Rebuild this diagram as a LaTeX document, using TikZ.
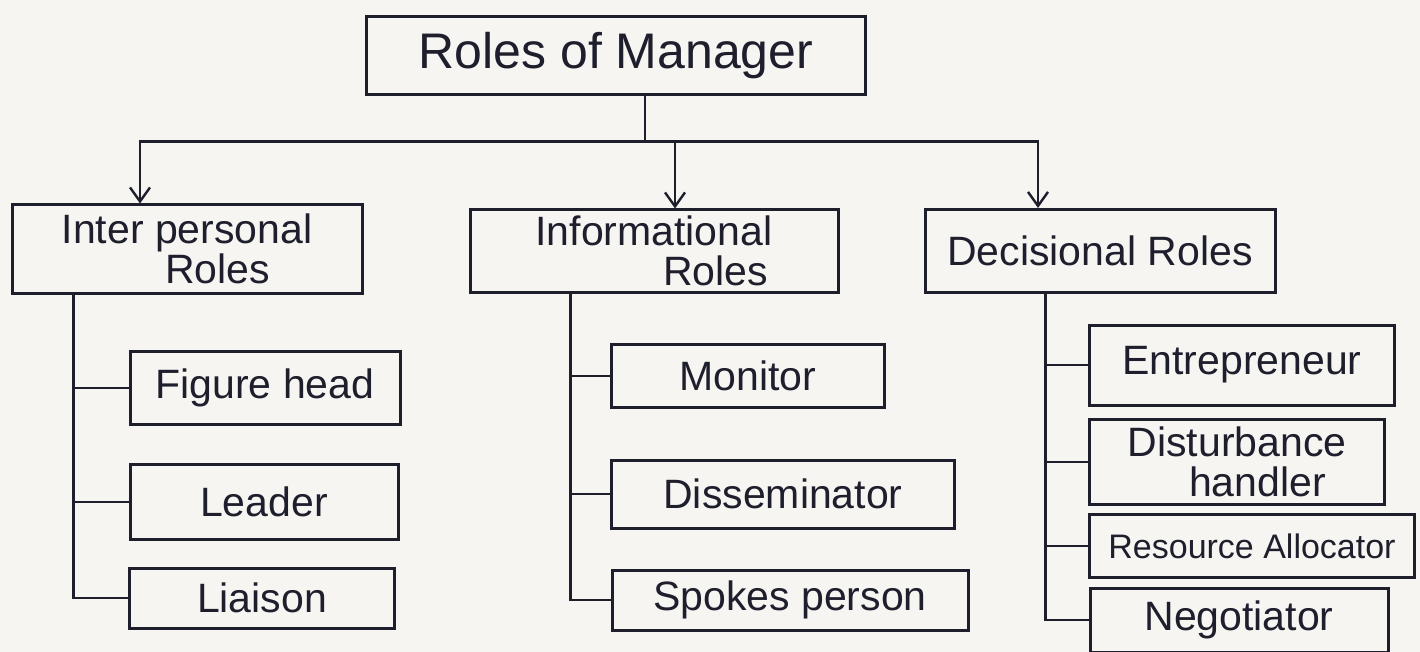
\documentclass[tikz,border=0pt]{standalone}
\usepackage{fontspec}
\setmainfont{Liberation Sans}
\usetikzlibrary{arrows.meta}
\definecolor{paper}{HTML}{F7F5F2}
\definecolor{ink}{HTML}{1E1E2C}
\tikzset{
  box/.style={draw=ink, line width=3pt, text=ink, inner sep=4pt, align=center,
    font=\fontsize{41}{40}\selectfont},
  link/.style={draw=ink, line width=2.6pt},
  down/.style={link, -{Straight Barb[length=14pt,width=20pt,line width=2.4pt]}}
}
\begin{document}
\begin{tikzpicture}[x=1pt,y=-1pt]
  \fill[paper] (0,0) rectangle (1420,652);
  \useasboundingbox (0,0) rectangle (1420,652);

  % top
  \node[box, minimum width=499pt, minimum height=78pt, font=\fontsize{50}{50}\selectfont] (rm) at (616,56) {Roles of Manager};

  % the three role groups
  \node[box, minimum width=350pt, minimum height=88pt] (ip) at (187,249) {Inter personal\\\hspace*{1.5em}Roles};
  \node[box, minimum width=368pt, minimum height=82pt] (if) at (654,251) {Informational\\\hspace*{3em}Roles};
  \node[box, minimum width=350pt, minimum height=83pt] (dc) at (1100,251) {Decisional Roles};

  % interpersonal roles
  \node[box, minimum width=270pt, minimum height=73pt] (fh) at (265,388) {Figure head};
  \node[box, minimum width=268pt, minimum height=75pt] (ld) at (264,502) {Leader};
  \node[box, minimum width=265pt, minimum height=60pt] (li) at (262,598) {Liaison};

  % informational roles
  \node[box, minimum width=273pt, minimum height=63pt] (mo) at (748,376) {Monitor};
  \node[box, minimum width=343pt, minimum height=68pt] (di) at (783,494) {Disseminator};
  \node[box, minimum width=356pt, minimum height=60pt] (sp) at (790,600) {Spokes person};

  % decisional roles
  \node[box, minimum width=305pt, minimum height=80pt] (en) at (1242,365) {Entrepreneur};
  \node[box, minimum width=295pt, minimum height=85pt] (dh) at (1237,462) {Disturbance\\\hspace*{1em}handler};
  \node[box, minimum width=325pt, minimum height=63pt, inner sep=2pt, font=\fontsize{34}{34}\selectfont] (ra) at (1252,546) {Resource Allocator};
  \node[box, minimum width=298pt, minimum height=64pt] (ne) at (1239,620) {Negotiator};

  % distribution from the top box
  \coordinate (hub) at ([xshift=29pt]rm.south);
  \draw[link] (hub) -- ++(0,45) coordinate (bar);
  \draw[down] (bar) -| ([xshift=-47pt]ip.north);
  \draw[down] (bar) -| ([xshift=21pt]if.north);
  \draw[down] (bar) -| ([xshift=-62pt]dc.north);

  % interpersonal trunk
  \coordinate (t1) at ([xshift=63pt]ip.south west);
  \draw[link] (t1) -- (t1 |- li.west) -- (li.west);
  \draw[link] (t1 |- fh.west) -- (fh.west);
  \draw[link] (t1 |- ld.west) -- (ld.west);

  % informational trunk
  \coordinate (t2) at ([xshift=102pt]if.south west);
  \draw[link] (t2) -- (t2 |- sp.west) -- (sp.west);
  \draw[link] (t2 |- mo.west) -- (mo.west);
  \draw[link] (t2 |- di.west) -- (di.west);

  % decisional trunk
  \coordinate (t3) at ([xshift=122pt]dc.south west);
  \draw[link] (t3) -- (t3 |- ne.west) -- (ne.west);
  \draw[link] (t3 |- en.west) -- (en.west);
  \draw[link] (t3 |- dh.west) -- (dh.west);
  \draw[link] (t3 |- ra.west) -- (ra.west);
\end{tikzpicture}
\end{document}
